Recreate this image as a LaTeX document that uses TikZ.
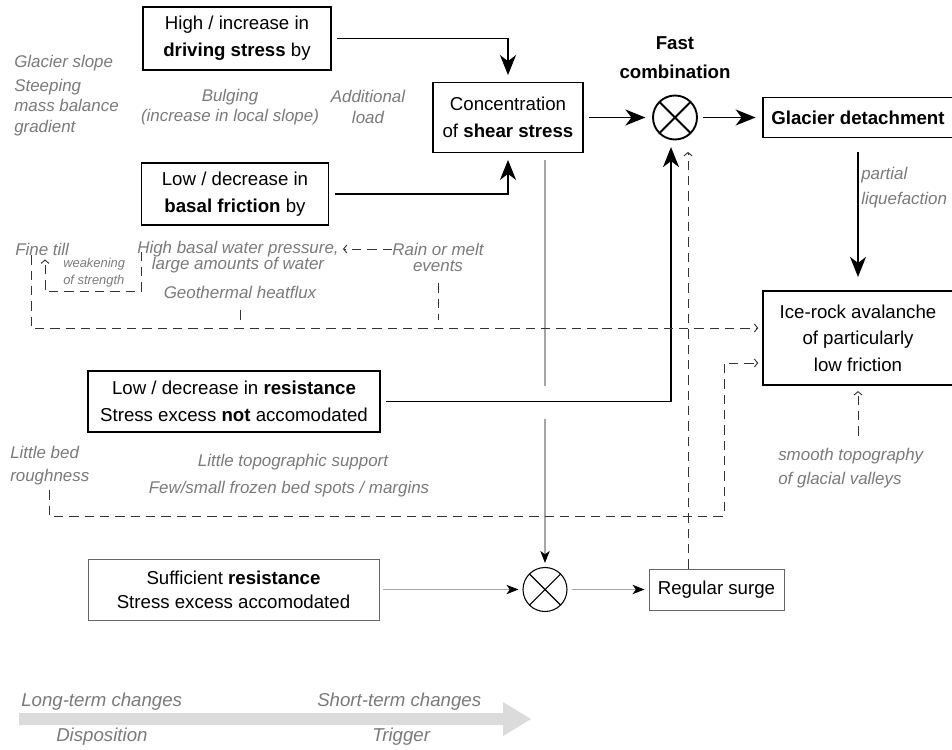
\documentclass[tikz,border=0pt]{standalone}
\usepackage{fontspec}
\setmainfont{Liberation Sans}
\usetikzlibrary{arrows.meta}
\usetikzlibrary{positioning}
\usetikzlibrary{calc}

\definecolor{notegray}{HTML}{7A7A7A}
\definecolor{linegray}{HTML}{A6A6A6}
\definecolor{bandgray}{HTML}{DBDBDB}

\newcommand{\boxsize}[1]{\fontsize{14}{#1}\selectfont}
\newcommand{\notesize}[1]{\fontsize{12.7}{#1}\selectfont\itshape}

\begin{document}
\begin{tikzpicture}[x=0.75pt, y=-0.75pt,
	box/.style={draw, line width=1.1pt, inner sep=0pt, align=center, font=\boxsize{20pt}},
	softbox/.style={box, draw=black!60, line width=0.7pt},
	combi/.style={circle, draw, line width=#1, minimum size=33pt, inner sep=0pt,
		path picture={\draw[line width=#1] (path picture bounding box.north west) -- (path picture bounding box.south east)
			(path picture bounding box.north east) -- (path picture bounding box.south west);}},
	big/.style={line width=1.3pt, -{Stealth[length=15pt, width=12pt, inset=4.5pt]}, shorten <=4pt, shorten >=5pt},
	feed/.style={draw=linegray, line width=0.8pt, -{Stealth[length=9pt, width=7pt, inset=2.5pt, color=black]}, shorten <=3pt, shorten >=3pt},
	hint/.style={draw=black!80, line width=0.7pt, dash pattern=on 7pt off 4.5pt, -{Straight Barb[length=2.5pt, width=6pt]}, shorten >=3pt},
	note/.style={text=notegray, inner sep=0pt, font=\notesize{15.4pt}},
	band/.style={note, anchor=west, font=\fontsize{14}{17}\selectfont\itshape}
]
	\useasboundingbox (0,0) rectangle (952,749);

	% time band
	\fill[bandgray] (19,713) -- (503,713) -- (503,702) -- (531,719) -- (503,736) -- (503,725) -- (19,725) -- cycle;
	\node[band] (long) at (21,702) {Long-term changes};
	\node[band] (short) at (317,702) {Short-term changes};
	\node[band] (disp) at (56,737) {Disposition};
	\node[band] (trig) at (372,737) {Trigger};

	% boxes
	\node[box, minimum width=141pt, minimum height=47.25pt] (drive) at (237,38.5) {High / increase in\\\textbf{driving stress} by};
	\node[box, minimum width=140.25pt, minimum height=46.5pt] (basal) at (235,194) {Low / decrease in\\\textbf{basal friction} by};
	\node[box, minimum width=112.5pt, minimum height=52.5pt] (conc) at (508,117.5) {Concentration\\of \textbf{shear stress}};
	\node[combi=1.4pt] (fast) at (675,117.5) {};
	\node[font=\bfseries\boxsize{21.75pt}, align=center, inner sep=0pt, above=12pt of fast] (fastlbl) {Fast\\combination};
	\node[box, minimum width=142.5pt, minimum height=30pt] (detach) at (858,117.5) {\textbf{Glacier detachment}};
	\node[box, minimum width=142.5pt, minimum height=70.5pt] (avalanche) at (858,338) {Ice-rock avalanche\\of particularly\\low friction};
	\node[box, minimum width=219pt, minimum height=45.75pt] (resist) at (234,401.5) {Low / decrease in \textbf{resistance}\\Stress excess \textbf{not} accomodated};
	\node[softbox, font=\boxsize{18pt}, minimum width=218.25pt, minimum height=45.75pt] (suff) at (233.5,589.5) {Sufficient \textbf{resistance}\\Stress excess accomodated};
	\node[combi=0.8pt] (slow) at (545,589.5) {};
	\node[softbox, minimum width=101.25pt, minimum height=30.75pt] (surge) at (716.5,589.5) {Regular surge};

	% factors
	\node[note, anchor=west] (slope) at (14,63) {Glacier slope};
	\node[note, anchor=west, align=left] (steep) at (14,107.5) {Steeping\\mass balance\\gradient};
	\node[note, align=center] (bulge) at (230,107) {Bulging\\(increase in local slope)};
	\node[note, align=center] (load) at (368,107) {Additional\\load};
	\node[note, anchor=west] (till) at (15,249) {Fine till};
	\node[note, align=center, font=\notesize{12pt}] (water) at (238,257) {High basal water pressure,\\large amounts of water};
	\node[note, align=center, font=\notesize{12pt}] (rain) at (438,257) {Rain or melt\\events};
	\node[note, anchor=west, align=left, font=\fontsize{9.7}{12.75}\selectfont\itshape] (weak) at (63,273) {weakening\\of strength};
	\node[note] (heat) at (240,292) {Geothermal heatflux};
	\node[note, anchor=west, align=left, font=\notesize{17pt}] (bed) at (10,465.5) {Little bed\\roughness};
	\node[note] (topo) at (293,462) {Little topographic support};
	\node[note] (frozen) at (289,489) {Few/small frozen bed spots / margins};
	\node[note, anchor=west, align=left, font=\notesize{18.75pt}] (liq) at (861,187.5) {partial\\liquefaction};
	\node[note, anchor=west, align=left, font=\notesize{18pt}] (smooth) at (778,468) {smooth topography\\of glacial valleys};

	\coordinate (inA) at ($(avalanche.west)+(0,-10)$);
	\coordinate (inB) at ($(avalanche.west)+(0,25)$);
	\coordinate (bend) at (724,516);
	\coordinate (up) at ($(fast.south)+(13,0)$);
	\coordinate (calm) at ($(avalanche.south)+(0,50)$);
	\coordinate (gapA) at ($(slow |- resist.east)+(0,-12)$);
	\coordinate (gapB) at ($(slow |- resist.east)+(0,17)$);

	% main chain
	\draw[big] (drive.east) -| (conc.north);
	\draw[big] (basal.east) -| (conc.south);
	\draw[big] (conc) -- (fast);
	\draw[big] (fast) -- (detach);
	\draw[big, shorten <=10pt, shorten >=10pt] (detach) -- (avalanche);
	\draw[big] (resist.east) -| ([xshift=-3pt]fast.south);

	% slow chain
	\draw[feed, -, shorten <=5pt] (conc.south -| slow) -- (gapA);
	\draw[feed, shorten <=0pt] (gapB) -- (slow);
	\draw[feed] (suff) -- (slow);
	\draw[feed] (slow) -- (surge);

	% dashed links
	\draw[hint] ([xshift=12pt]till.south west) |- (inA);
	\draw[hint] ([xshift=3pt, yshift=4pt]water.west) -- ++(0,40) -| ([xshift=22.5pt]till.south west);
	\draw[hint] ([yshift=6pt]rain.west) -- ([yshift=6pt]water.east);
	\draw[hint, -, shorten <=9pt] (heat.south) -- (heat.south |- inA);
	\draw[hint, -, shorten <=9pt, shorten >=6pt] (rain.south) -- (rain.south |- inA);
	\draw[hint, shorten <=4pt] ([xshift=29.25pt]bed.south west) |- (bend) |- (inB);
	\draw[hint, shorten >=4pt] (calm) -- (avalanche.south);
	\draw[hint, shorten >=8.6pt] (up |- surge.north) -- (up);
\end{tikzpicture}
\end{document}
